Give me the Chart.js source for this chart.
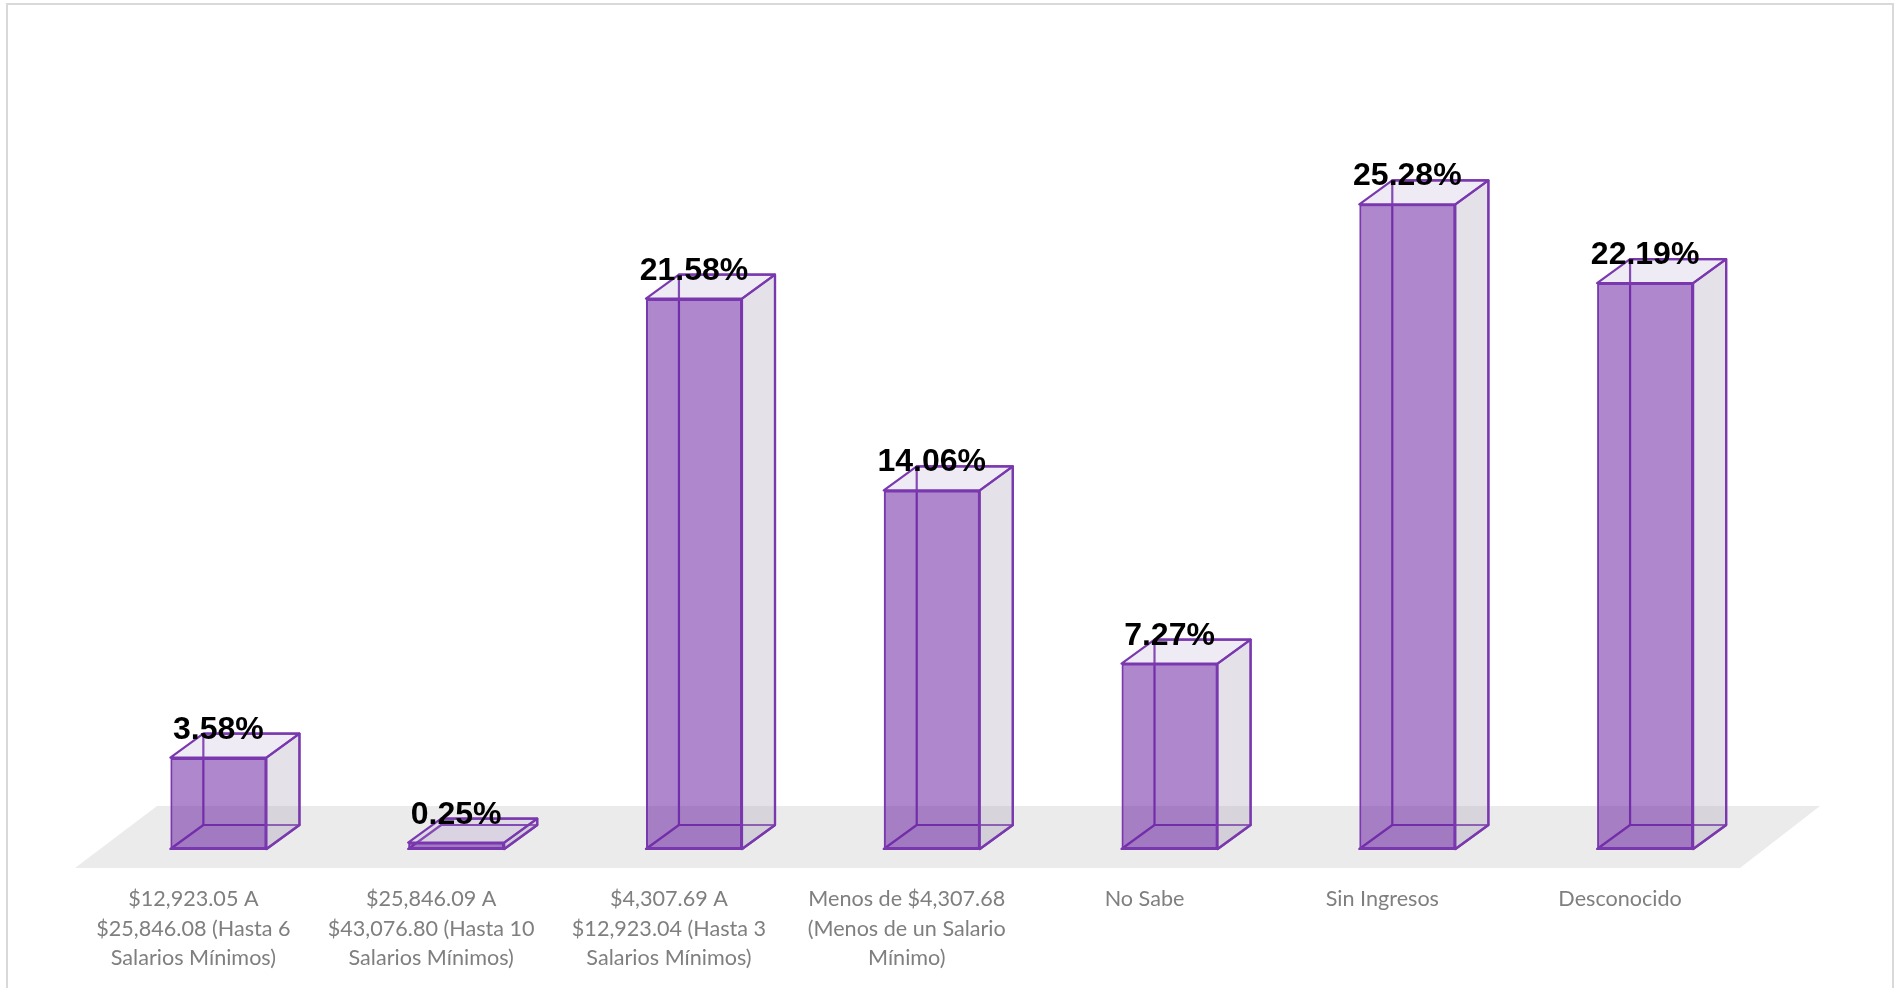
<!DOCTYPE html>
<html>
<head>
<meta charset="utf-8">
<title>Salarios</title>
<script src="https://cdn.jsdelivr.net/npm/chart.js@4/dist/chart.umd.js"></script>
<style>
  html, body { margin: 0; padding: 0; background: #fff; overflow: hidden; }
  canvas { display: block; }
</style>
</head>
<body>
<canvas id="chart" width="1902" height="988"></canvas>
<script>
// values
const categories = [
  ['$12,923.05 A', '$25,846.08 (Hasta 6', 'Salarios Mínimos)'],
  ['$25,846.09 A', '$43,076.80 (Hasta 10', 'Salarios Mínimos)'],
  ['$4,307.69 A', '$12,923.04 (Hasta 3', 'Salarios Mínimos)'],
  ['Menos de $4,307.68', '(Menos de un Salario', 'Mínimo)'],
  'No Sabe',
  'Sin Ingresos',
  'Desconocido',
];
const percentages = [3.58, 0.25, 21.58, 14.06, 7.27, 25.28, 22.19];

const STROKE = '#7a38ae';
const DEPTH_X = 33;
const DEPTH_Y = 24;

function poly(ctx, pts, fill) {
  ctx.beginPath();
  pts.forEach((p, i) => (i ? ctx.lineTo(p[0], p[1]) : ctx.moveTo(p[0], p[1])));
  ctx.closePath();
  if (fill) {
    ctx.fillStyle = fill;
    ctx.fill();
  }
  ctx.stroke();
}

/* frame and floor, behind the bars */
const backdrop = {
  id: 'backdrop',
  beforeDatasetsDraw(chart) {
    const { ctx, scales } = chart;
    const y0 = scales.y.getPixelForValue(0);
    ctx.save();
    ctx.strokeStyle = '#d9d9d9';
    ctx.lineWidth = 2;
    ctx.beginPath();
    ctx.moveTo(7, 988);
    ctx.lineTo(7, 4);
    ctx.lineTo(1893, 4);
    ctx.lineTo(1893, 988);
    ctx.stroke();
    ctx.fillStyle = '#ebebeb';
    ctx.beginPath();
    ctx.moveTo(75, y0 + 19);
    ctx.lineTo(157, y0 - 43);
    ctx.lineTo(1820, y0 - 43);
    ctx.lineTo(1740, y0 + 19);
    ctx.closePath();
    ctx.fill();
    ctx.restore();
  },
};

/* the depth of each box, taken from the bar elements */
const boxes = {
  id: 'boxes',
  beforeDatasetsDraw(chart) {
    const { ctx } = chart;
    ctx.save();
    ctx.strokeStyle = STROKE;
    ctx.lineWidth = 2.2;
    ctx.lineJoin = 'round';
    chart.getDatasetMeta(0).data.forEach((bar) => {
      const l = bar.x - bar.width / 2;
      const r = bar.x + bar.width / 2;
      const t = bar.y;
      const b = bar.base;
      // back faces first so the edges show through
      poly(ctx, [[l + DEPTH_X, t - DEPTH_Y], [l + DEPTH_X, b - DEPTH_Y], [r + DEPTH_X, b - DEPTH_Y], [r + DEPTH_X, t - DEPTH_Y]]);
      poly(ctx, [[l, b], [r, b], [r + DEPTH_X, b - DEPTH_Y], [l + DEPTH_X, b - DEPTH_Y]], 'rgba(108,37,164,0.04)');
      poly(ctx, [[r, t], [r + DEPTH_X, t - DEPTH_Y], [r + DEPTH_X, b - DEPTH_Y], [r, b]], 'rgba(177,172,190,0.35)');
      poly(ctx, [[l, t], [r, t], [r + DEPTH_X, t - DEPTH_Y], [l + DEPTH_X, t - DEPTH_Y]], 'rgba(177,155,205,0.2)');
    });
    ctx.restore();
  },
  afterDatasetsDraw(chart) {
    const { ctx } = chart;
    const ds = chart.data.datasets[0];
    ctx.save();
    ctx.fillStyle = '#000';
    ctx.font = 'bold 32px "Liberation Sans", Arial, sans-serif';
    ctx.textAlign = 'center';
    ctx.textBaseline = 'alphabetic';
    chart.getDatasetMeta(0).data.forEach((bar, i) => {
      ctx.fillText(ds.data[i].toFixed(2) + '%', bar.x, bar.y - 19);
    });
    ctx.restore();
  },
};

new Chart(document.getElementById('chart'), {
  type: 'bar',
  data: {
    labels: categories,
    datasets: [{
      data: percentages,
      backgroundColor: 'rgba(108,37,164,0.55)',
      borderColor: STROKE,
      borderWidth: 2.2,
      borderSkipped: false,
      categoryPercentage: 1,
      barPercentage: 0.404,
    }],
  },
  options: {
    responsive: false,
    animation: false,
    layout: { padding: { left: 99.5, right: 138, top: 84, bottom: 0 } },
    plugins: { legend: { display: false }, tooltip: { enabled: false } },
    scales: {
      x: {
        afterFit(scale) { scale.height = 139; },
        grid: { display: false },
        border: { display: false },
        ticks: {
          autoSkip: false,
          maxRotation: 0,
          padding: 27,
          labelOffset: -25,
          color: '#7f7f7f',
          font: { family: 'Lato, Carlito, sans-serif', size: 21.6, lineHeight: 1.38 },
        },
      },
      y: { display: false, min: 0, max: 30 },
    },
  },
  plugins: [backdrop, boxes],
});
</script>
</body>
</html>
